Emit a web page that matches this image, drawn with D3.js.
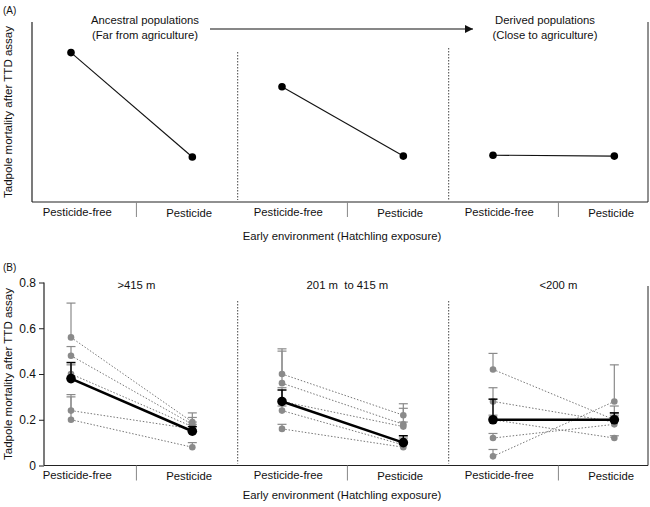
<!DOCTYPE html>
<html><head><meta charset="utf-8">
<script src="https://cdn.jsdelivr.net/npm/d3@7"></script>
<style>body{margin:0;background:#fff}svg{display:block}text{font-family:"Liberation Sans",Arial,sans-serif;fill:#111;white-space:pre}</style>
</head><body><svg id="c" width="650" height="507"></svg>
<script>
// ---------- DATA ----------
const categories = ["Pesticide-free", "Pesticide"];
const yLabel = "Tadpole mortality after TTD assay";
const xLabel = "Early environment (Hatchling exposure)";
// Panel A (schematic, arbitrary units)
const aPesticideFree = [0.83, 0.64, 0.26];
const aPesticide = [0.25, 0.255, 0.255];
// Panel B
const groupLabels = [">415 m", "201 m  to 415 m", "<200 m"];
const yTicks = [0, 0.2, 0.4, 0.6, 0.8];
const siteFree = [[0.56, 0.48, 0.40, 0.24, 0.20], [0.40, 0.36, 0.28, 0.24, 0.16], [0.42, 0.28, 0.20, 0.12, 0.04]];
const siteFreeUpper = [[0.71, 0.52, 0.44, 0.31, 0.30], [0.51, 0.50, 0.34, 0.26, 0.18], [0.49, 0.34, 0.22, 0.14, 0.07]];
const sitePest = [[0.19, 0.18, 0.17, 0.16, 0.08], [0.22, 0.18, 0.17, 0.09, 0.08], [0.20, 0.19, 0.12, 0.18, 0.28]];
const sitePestUpper = [[0.23, 0.21, 0.19, 0.18, 0.10], [0.27, 0.25, 0.19, 0.12, 0.10], [0.22, 0.26, 0.13, 0.23, 0.44]];
const meanFree = [0.38, 0.28, 0.20];
const meanFreeUpper = [0.45, 0.33, 0.29];
const meanPest = [0.15, 0.10, 0.20];
const meanPestUpper = [0.17, 0.13, 0.23];

// ---------- DRAW ----------
const svg = d3.select("#c");
const gray = "#8a8a8a";
const pOff = 0.575; // position of "Pesticide" within a group (group units)
const x = d3.scaleLinear().domain([0, 1]).range([71, 282]);

function frame(left, top, bottom, yTop, yLab, yLabLen, xLabY, sepTop, catY) {
  const g = svg.append("g");
  g.append("line").attr("x1", left).attr("x2", left).attr("y1", yTop).attr("y2", bottom).attr("stroke", "#222").attr("stroke-width", 1.2);
  g.append("line").attr("x1", left).attr("x2", 648).attr("y1", bottom).attr("y2", bottom).attr("stroke", "#222").attr("stroke-width", 1.2);
  g.append("line").attr("x1", 648).attr("x2", 648).attr("y1", top).attr("y2", bottom).attr("stroke", "#222").attr("stroke-width", 1);
  [0, 1, 2].forEach(i => {
    g.append("line").attr("x1", x(i + 0.31)).attr("x2", x(i + 0.31)).attr("y1", bottom).attr("y2", bottom + 15).attr("stroke", "#888").attr("stroke-width", 1);
    g.append("text").attr("x", x(i + 0.03)).attr("y", catY).attr("text-anchor", "middle").attr("font-size", 11.3).text(categories[0]);
    g.append("text").attr("x", x(i + 0.56)).attr("y", catY + 1).attr("text-anchor", "middle").attr("font-size", 11.3).text(categories[1]);
  });
  [0, 1].forEach(i => {
    g.append("line").attr("x1", x(i + 0.79)).attr("x2", x(i + 0.79)).attr("y1", sepTop[i]).attr("y2", bottom - 2).attr("stroke", "#444").attr("stroke-width", 1).attr("stroke-dasharray", "1.5,1.5");
  });
  g.append("text").attr("transform", `translate(12,${yLab}) rotate(-90)`).attr("text-anchor", "middle")
    .attr("font-size", 11.5).attr("textLength", yLabLen).attr("lengthAdjust", "spacingAndGlyphs").text(yLabel);
  g.append("text").attr("x", 342).attr("y", xLabY).attr("text-anchor", "middle").attr("font-size", 11.3).text(xLabel);
}

// ----- Panel A -----
const yA = d3.scaleLinear().domain([0, 1]).range([202, 22]);
frame(32, 22, 202, 22, 112, 172, 240, [52, 48], 216);
svg.append("text").attr("x", 3).attr("y", 14).attr("font-size", 10).text("(A)");
svg.append("defs").append("marker").attr("id", "ah").attr("viewBox", "0 0 10 10").attr("refX", 10).attr("refY", 5)
  .attr("markerWidth", 8).attr("markerHeight", 8).attr("markerUnits", "userSpaceOnUse").attr("orient", "auto")
  .append("path").attr("d", "M0,0L10,5L0,10Z").attr("fill", "#111");
svg.append("line").attr("x1", 210).attr("x2", 473).attr("y1", 29).attr("y2", 29).attr("stroke", "#111").attr("stroke-width", 1.2).attr("marker-end", "url(#ah)");
[["Ancestral populations", "(Far from agriculture)", 145], ["Derived populations", "(Close to agriculture)", 545]].forEach(d => {
  svg.append("text").attr("x", d[2]).attr("y", 24).attr("text-anchor", "middle").attr("font-size", 11.3).text(d[0]);
  svg.append("text").attr("x", d[2]).attr("y", 39).attr("text-anchor", "middle").attr("font-size", 11.3).text(d[1]);
});
aPesticideFree.forEach((v, i) => {
  const x0 = x(i), x1 = x(i + pOff);
  svg.append("line").attr("x1", x0).attr("x2", x1).attr("y1", yA(v)).attr("y2", yA(aPesticide[i])).attr("stroke", "#111").attr("stroke-width", 1.1);
  svg.append("circle").attr("cx", x0).attr("cy", yA(v)).attr("r", 3.8).attr("fill", "#000");
  svg.append("circle").attr("cx", x1).attr("cy", yA(aPesticide[i])).attr("r", 3.8).attr("fill", "#000");
});

// ----- Panel B -----
const leftB = 44;
const yB = d3.scaleLinear().domain([0, 0.8]).range([465.5, 282.5]);
frame(leftB, 286, 465.5, 282.5, 374, 172, 499, [301, 301], 479);
svg.append("text").attr("x", 3).attr("y", 271).attr("font-size", 10).text("(B)");
const ax = svg.append("g").attr("transform", `translate(${leftB},0)`)
  .call(d3.axisLeft(yB).tickValues(yTicks).tickFormat(d => d === 0 ? "0" : d3.format(".1f")(d)).tickSize(5).tickSizeOuter(0));
ax.select(".domain").remove();
ax.selectAll("line").attr("stroke", "#222");
ax.selectAll("text").attr("font-size", 12).attr("font-family", '"Liberation Sans",Arial,sans-serif').attr("fill", "#111");
groupLabels.forEach((t, i) => {
  svg.append("text").attr("x", x(i + 0.31)).attr("y", 289).attr("text-anchor", "middle").attr("font-size", 11.3).text(t);
});
function errBar(cx, v, up, col, w) {
  svg.append("line").attr("x1", cx).attr("x2", cx).attr("y1", yB(v)).attr("y2", yB(up)).attr("stroke", col).attr("stroke-width", w);
  svg.append("line").attr("x1", cx - 4.5).attr("x2", cx + 4.5).attr("y1", yB(up)).attr("y2", yB(up)).attr("stroke", col).attr("stroke-width", w);
}
[0, 1, 2].forEach(g => {
  const x0 = x(g), x1 = x(g + pOff);
  siteFree[g].forEach((v, j) => {
    svg.append("line").attr("x1", x0).attr("x2", x1).attr("y1", yB(v)).attr("y2", yB(sitePest[g][j]))
      .attr("stroke", "#777").attr("stroke-width", 1).attr("stroke-dasharray", "1.5,1.8");
  });
  siteFree[g].forEach((v, j) => {
    errBar(x0, v, siteFreeUpper[g][j], gray, 1.2);
    errBar(x1, sitePest[g][j], sitePestUpper[g][j], gray, 1.2);
  });
  siteFree[g].forEach((v, j) => {
    svg.append("circle").attr("cx", x0).attr("cy", yB(v)).attr("r", 3.3).attr("fill", gray);
    svg.append("circle").attr("cx", x1).attr("cy", yB(sitePest[g][j])).attr("r", 3.3).attr("fill", gray);
  });
  svg.append("line").attr("x1", x0).attr("x2", x1).attr("y1", yB(meanFree[g])).attr("y2", yB(meanPest[g])).attr("stroke", "#000").attr("stroke-width", 2.6);
  errBar(x0, meanFree[g], meanFreeUpper[g], "#000", 1.5);
  errBar(x1, meanPest[g], meanPestUpper[g], "#000", 1.5);
  svg.append("circle").attr("cx", x0).attr("cy", yB(meanFree[g])).attr("r", 4.8).attr("fill", "#000");
  svg.append("circle").attr("cx", x1).attr("cy", yB(meanPest[g])).attr("r", 4.8).attr("fill", "#000");
});
</script></body></html>
